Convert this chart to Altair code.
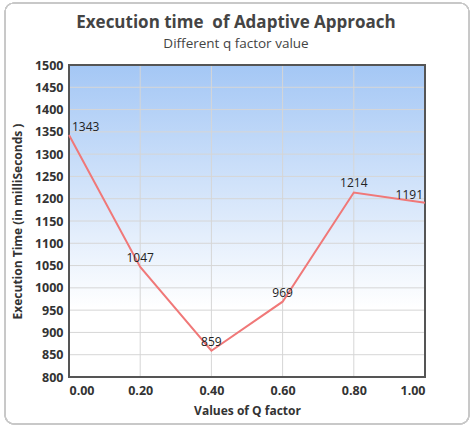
import altair as alt
import pandas as pd

q_values = [0.0, 0.2, 0.4, 0.6, 0.8, 1.0]
exec_times = [1343, 1047, 859, 969, 1214, 1191]
y_ticks = [800, 850, 900, 950, 1000, 1050, 1100, 1150, 1200, 1250, 1300, 1350, 1400, 1450, 1500]
x_ticks = [0.0, 0.2, 0.4, 0.6, 0.8, 1.0]

df = pd.DataFrame({"q": q_values, "t": exec_times})
df["idx"] = range(len(df))
ygrid = pd.DataFrame({"t": y_ticks})
xgrid = pd.DataFrame({"q": x_ticks})

W, H = 356, 312
FONT = "Open Sans"

axis_style = dict(
    ticks=False, grid=False, domain=False,
    labelFont=FONT, labelFontSize=12.5, labelFontWeight="bold", labelColor="#333",
    titleFont=FONT, titleFontSize=12, titleFontWeight="bold", titleColor="#333",
)

xscale = alt.Scale(domain=[0, 1], nice=False)
yscale = alt.Scale(domain=[800, 1500], nice=False)
xs = alt.X("q:Q", scale=xscale,
           axis=alt.Axis(values=x_ticks, format=".2f", title="Values of Q factor",
                         labelPadding=7, titlePadding=9, **axis_style))
ys = alt.Y("t:Q", scale=yscale,
           axis=alt.Axis(values=y_ticks, format="d", title="Execution Time (in milliSeconds )",
                         labelPadding=6, titlePadding=10, **axis_style))

frame = alt.Chart(df).mark_rect(
    filled=False, stroke="#c8c8c8", strokeWidth=1.2, cornerRadius=9
).encode(
    x=alt.value(-64), x2=alt.value(400), y=alt.value(-62), y2=alt.value(359)
)

bg = alt.Chart(df).mark_rect(
    color=alt.Gradient(
        gradient="linear", x1=0, x2=0, y1=0, y2=1,
        stops=[alt.GradientStop(offset=0, color="#a4c7f5"),
               alt.GradientStop(offset=0.78, color="#ffffff"),
               alt.GradientStop(offset=1, color="#ffffff")],
    )
).encode(x=alt.value(0), x2=alt.value(W), y=alt.value(0), y2=alt.value(H))

hgrid = alt.Chart(ygrid).mark_rule(color="#d6d6d6", strokeWidth=1).encode(y=ys)
vgrid = alt.Chart(xgrid).mark_rule(color="#d6d6d6", strokeWidth=1).encode(x=xs)

border = alt.Chart(df).mark_rect(
    filled=False, stroke="#555", strokeWidth=1.5
).encode(x=alt.value(0), x2=alt.value(W), y=alt.value(0), y2=alt.value(H))

line = alt.Chart(df).mark_line(color="#f07878", strokeWidth=2).encode(x=xs, y=ys)

txt_style = dict(font=FONT, fontSize=12, color="#222", baseline="bottom")
lab_first = alt.Chart(df).transform_filter("datum.idx == 0").mark_text(
    align="left", dx=3, dy=-1, **txt_style).encode(x=xs, y=ys, text="t:Q")
lab_mid = alt.Chart(df).transform_filter("datum.idx > 0 && datum.idx < 5").mark_text(
    align="center", dy=-2, **txt_style).encode(x=xs, y=ys, text="t:Q")
lab_last = alt.Chart(df).transform_filter("datum.idx == 5").mark_text(
    align="right", dx=-2, dy=-1, **txt_style).encode(x=xs, y=ys, text="t:Q")

chart = alt.layer(frame, bg, hgrid, vgrid, border, line, lab_first, lab_mid, lab_last).properties(
    width=W, height=H,
    autosize=alt.AutoSizeParams(type="none"),
    padding={"left": 69, "top": 65, "right": 50, "bottom": 51},
    background="white",
    title=alt.TitleParams(
        text="Execution time\u00a0 of Adaptive Approach",
        subtitle="Different q factor value",
        font=FONT, fontSize=17, fontWeight="bold", color="#444",
        subtitleFont=FONT, subtitleFontSize=13.5, subtitleColor="#444",
        subtitlePadding=5, anchor="middle", dx=-11, offset=-49,
    ),
).configure_view(stroke=None)

chart.save("out.html", embed_options={"renderer": "svg", "actions": False})
